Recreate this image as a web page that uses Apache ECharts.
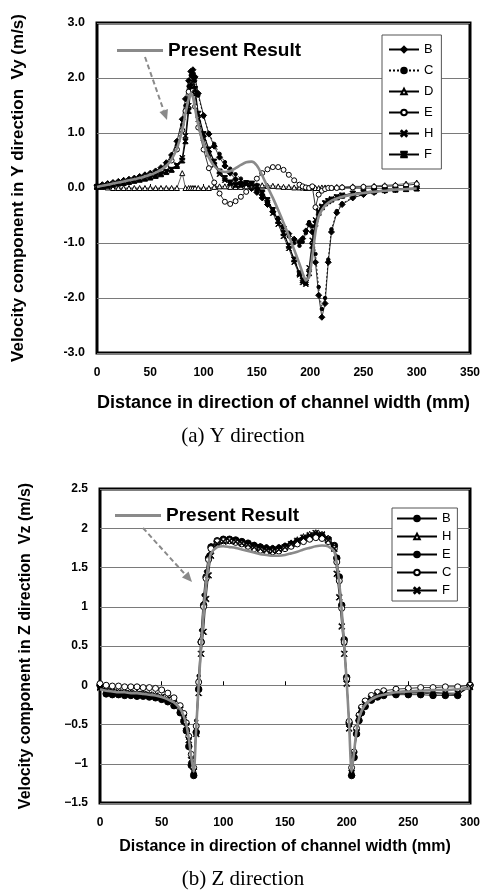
<!DOCTYPE html>
<html>
<head>
<meta charset="utf-8">
<script src="https://cdn.jsdelivr.net/npm/echarts@6/dist/echarts.min.js"></script>
<style>
  html, body { margin: 0; padding: 0; background: #fff; }
  #chart { width: 486px; height: 890px; }
</style>
</head>
<body>
<div id="chart"></div>
<script>
// ---------- (a) Y direction: Vy across the channel width ----------
const xA = [0,5,10,15,20,25,30,35,40,45,50,55,60,65,70,75,80,83,86,88,90,92,95,100,105,110,115,120,125,130,135,140,145,150,155,160,165,170,175,180,185,190,193,196,199,202,205,208,211,214,217,220,225,230,240,250,260,270,280,290,300];

const vyModel = [0.02,0.04,0.06,0.08,0.10,0.12,0.14,0.16,0.18,0.21,
  0.24,0.28,0.33,0.40,0.52,0.72,1.05,1.35,1.62,1.72,
  1.65,1.45,1.15,0.80,0.55,0.40,0.32,0.29,0.31,0.36,
  0.42,0.47,0.48,0.41,0.23,0.02,-0.18,-0.40,-0.63,-0.87,
  -1.12,-1.38,-1.55,-1.68,-1.62,-1.25,-0.80,-0.52,-0.40,-0.32,
  -0.27,-0.23,-0.19,-0.16,-0.12,-0.09,-0.07,-0.05,-0.03,-0.02,-0.01];

const vyB = [0.04,0.06,0.08,0.10,0.12,0.14,0.16,0.18,0.21,0.24,
  0.27,0.31,0.37,0.46,0.60,0.85,1.25,1.62,1.95,2.12,
  2.15,2.02,1.72,1.32,0.98,0.76,0.56,0.40,0.27,0.16,
  0.09,0.04,-0.01,-0.08,-0.18,-0.30,-0.43,-0.56,-0.70,-0.83,
  -0.93,-0.98,-0.92,-0.78,-0.66,-0.80,-1.35,-1.95,-2.35,-2.10,
  -1.35,-0.80,-0.45,-0.30,-0.18,-0.12,-0.08,-0.05,-0.03,-0.01,0.00];

const vyC = [0.03,0.05,0.07,0.09,0.11,0.13,0.15,0.17,0.20,0.23,
  0.26,0.30,0.35,0.43,0.56,0.78,1.15,1.50,1.85,2.05,
  2.08,1.95,1.68,1.30,1.00,0.80,0.62,0.47,0.35,0.25,
  0.17,0.10,0.04,-0.04,-0.14,-0.26,-0.40,-0.55,-0.72,-0.88,
  -1.00,-1.05,-0.98,-0.82,-0.62,-0.70,-1.20,-1.80,-2.20,-2.00,
  -1.30,-0.75,-0.42,-0.28,-0.17,-0.11,-0.07,-0.05,-0.03,-0.02,0.00];

const vyD = [0.03,0.02,0.01,0.00,0.00,0.00,0.00,0.00,0.00,0.00,
  0.00,0.00,0.00,0.00,0.00,0.00,0.27,0.00,0.00,0.00,
  0.00,0.00,0.00,0.00,0.00,0.02,0.03,0.03,0.02,0.02,
  0.02,0.03,0.04,0.05,0.05,0.04,0.04,0.03,0.02,0.02,
  0.01,0.01,0.01,0.00,0.00,0.02,0.00,0.00,0.01,0.01,
  0.01,0.01,0.02,0.02,0.03,0.03,0.04,0.05,0.06,0.08,0.10];

const vyE = [0.02,0.04,0.06,0.08,0.09,0.11,0.13,0.15,0.17,0.20,
  0.23,0.26,0.31,0.38,0.50,0.70,1.05,1.40,1.75,1.90,
  1.78,1.48,1.10,0.70,0.36,0.10,-0.10,-0.25,-0.29,-0.24,
  -0.16,-0.07,0.05,0.17,0.27,0.34,0.38,0.38,0.33,0.24,
  0.14,0.06,0.03,0.01,0.00,0.03,-0.35,-0.12,-0.05,-0.02,
  0.00,0.00,0.00,0.01,0.01,0.02,0.02,0.03,0.04,0.05,0.07];

const vyH = [0.02,0.03,0.05,0.07,0.08,0.10,0.12,0.14,0.16,0.18,
  0.20,0.23,0.26,0.30,0.34,0.42,0.55,0.95,1.50,1.90,
  1.98,1.70,1.25,0.90,0.62,0.42,0.25,0.14,0.08,0.05,
  0.06,0.08,0.06,0.02,-0.10,-0.26,-0.46,-0.66,-0.88,-1.10,
  -1.35,-1.58,-1.72,-1.75,-1.45,-0.95,-0.58,-0.42,-0.33,-0.27,
  -0.23,-0.20,-0.16,-0.13,-0.10,-0.07,-0.05,-0.04,-0.03,-0.02,-0.01];

const vyF = [0.02,0.03,0.04,0.06,0.08,0.09,0.11,0.13,0.15,0.17,
  0.19,0.22,0.25,0.29,0.33,0.40,0.50,0.85,1.40,1.85,
  2.05,1.80,1.35,0.98,0.70,0.48,0.30,0.18,0.10,0.06,
  0.06,0.09,0.08,0.03,-0.08,-0.22,-0.40,-0.60,-0.82,-1.05,
  -1.30,-1.55,-1.68,-1.72,-1.55,-1.05,-0.65,-0.45,-0.35,-0.28,
  -0.24,-0.21,-0.17,-0.14,-0.10,-0.08,-0.06,-0.04,-0.03,-0.02,-0.01];

const yTicksA = { min: -3, max: 3, step: 1 };
const xTicksA = { min: 0, max: 350, step: 50 };

// ---------- (b) Z direction: Vz across the channel width ----------
const xB = [0,5,10,15,20,25,30,35,40,45,50,55,60,65,68,70,72,74,76,78,80,82,84,86,88,90,95,100,105,110,115,120,125,130,135,140,145,150,155,160,165,170,175,180,185,190,192,194,196,198,200,202,204,206,208,210,212,215,220,225,230,240,250,260,270,280,290,300];

const vzModel = [-0.05,-0.07,-0.08,-0.09,-0.09,-0.10,-0.10,-0.11,-0.12,-0.13,
  -0.15,-0.18,-0.22,-0.30,-0.40,-0.50,-0.68,-0.92,-1.10,-0.55,
  0.00,0.50,0.95,1.30,1.55,1.68,1.76,1.77,1.76,1.75,
  1.73,1.71,1.69,1.67,1.66,1.65,1.65,1.66,1.68,1.70,
  1.73,1.75,1.77,1.78,1.77,1.70,1.55,1.30,0.95,0.50,
  0.05,-0.50,-1.10,-0.85,-0.58,-0.42,-0.33,-0.25,-0.18,-0.14,
  -0.12,-0.09,-0.08,-0.07,-0.06,-0.06,-0.05,-0.04];

const vzB = [0.00,-0.11,-0.12,-0.12,-0.13,-0.13,-0.14,-0.14,-0.15,-0.16,
  -0.18,-0.21,-0.26,-0.35,-0.46,-0.58,-0.78,-1.02,-1.15,-0.60,
  -0.05,0.55,1.02,1.38,1.62,1.76,1.84,1.86,1.86,1.85,
  1.83,1.81,1.78,1.76,1.74,1.73,1.74,1.76,1.79,1.83,
  1.86,1.89,1.91,1.90,1.86,1.78,1.62,1.38,1.02,0.58,
  0.10,-0.48,-1.15,-0.92,-0.62,-0.45,-0.35,-0.27,-0.19,-0.15,
  -0.13,-0.12,-0.12,-0.12,-0.13,-0.13,-0.13,0.00];

const vzH = [-0.02,-0.06,-0.07,-0.08,-0.08,-0.09,-0.09,-0.10,-0.11,-0.12,
  -0.14,-0.17,-0.21,-0.29,-0.38,-0.48,-0.66,-0.90,-1.08,-0.50,
  0.08,0.60,1.05,1.40,1.62,1.75,1.82,1.84,1.85,1.84,
  1.82,1.80,1.77,1.75,1.74,1.73,1.75,1.78,1.82,1.86,
  1.90,1.93,1.95,1.93,1.88,1.78,1.60,1.35,1.00,0.55,
  0.08,-0.45,-1.08,-0.88,-0.58,-0.40,-0.31,-0.23,-0.16,-0.12,
  -0.10,-0.08,-0.07,-0.07,-0.06,-0.06,-0.05,-0.02];

const vzE = [-0.04,-0.08,-0.09,-0.10,-0.10,-0.11,-0.11,-0.12,-0.13,-0.14,
  -0.16,-0.19,-0.24,-0.33,-0.43,-0.55,-0.72,-0.97,-1.12,-0.45,
  0.12,0.70,1.15,1.45,1.66,1.78,1.85,1.87,1.86,1.85,
  1.84,1.82,1.80,1.78,1.77,1.76,1.77,1.79,1.82,1.85,
  1.88,1.90,1.92,1.91,1.86,1.76,1.58,1.32,0.98,0.52,
  0.05,-0.52,-1.12,-0.90,-0.60,-0.43,-0.33,-0.25,-0.18,-0.14,
  -0.12,-0.11,-0.10,-0.10,-0.11,-0.11,-0.12,-0.02];

const vzC = [0.02,0.00,-0.01,-0.01,-0.02,-0.02,-0.02,-0.03,-0.03,-0.04,
  -0.06,-0.10,-0.16,-0.26,-0.36,-0.48,-0.65,-0.88,-1.05,-0.52,
  0.04,0.55,1.00,1.36,1.60,1.74,1.83,1.84,1.84,1.82,
  1.80,1.77,1.74,1.72,1.70,1.70,1.71,1.74,1.77,1.80,
  1.83,1.86,1.88,1.87,1.83,1.74,1.57,1.33,0.98,0.55,
  0.08,-0.46,-1.05,-0.85,-0.55,-0.38,-0.28,-0.20,-0.13,-0.09,
  -0.07,-0.05,-0.04,-0.03,-0.03,-0.02,-0.02,0.00];

const vzF = [-0.03,-0.07,-0.08,-0.09,-0.10,-0.10,-0.11,-0.11,-0.12,-0.13,
  -0.15,-0.18,-0.23,-0.31,-0.41,-0.52,-0.70,-0.95,-1.10,-0.62,
  -0.10,0.40,0.68,1.10,1.40,1.65,1.80,1.83,1.84,1.83,
  1.81,1.79,1.76,1.74,1.72,1.71,1.73,1.76,1.80,1.84,
  1.88,1.91,1.94,1.92,1.85,1.74,1.42,1.12,0.75,0.40,
  0.02,-0.55,-1.12,-0.88,-0.60,-0.42,-0.32,-0.24,-0.17,-0.13,
  -0.11,-0.10,-0.09,-0.09,-0.09,-0.10,-0.10,-0.02];

const yTicksB = { min: -1.5, max: 2.5, step: 0.5 };
const xTicksB = { min: 0, max: 300, step: 50 };

const legendA = ['B', 'C', 'D', 'E', 'H', 'F'];
const legendB = ['B', 'H', 'E', 'C', 'F'];
const modelName = 'Present Result';

// ---------- styling ----------
const SANS = '"Liberation Sans", Arial, Helvetica, sans-serif';
const SERIF = '"Liberation Serif", "Times New Roman", serif';
const GRAY = '#8a8a8a';

const SYM_X = 'path://M0,1L1,0L5,4L9,0L10,1L6,5L10,9L9,10L5,6L1,10L0,9L4,5Z';
const SYM_HOUR = 'path://M0,0L10,0L10,1.6L6,5L10,8.4L10,10L0,10L0,8.4L4,5L0,1.6Z';

const pairs = (xs, ys) => xs.map((x, i) => [x, ys[i]]);

function dataSeries(name, idx, xs, ys, symbol, size, opts) {
  opts = opts || {};
  return {
    name: name, type: 'line', xAxisIndex: idx, yAxisIndex: idx,
    data: pairs(xs, ys),
    symbol: symbol, symbolSize: size, showSymbol: true,
    itemStyle: opts.item || { color: '#000', borderColor: '#000', borderWidth: 1 },
    lineStyle: { color: '#000', width: opts.width || 0.8, type: opts.dash || 'solid' },
    emphasis: { disabled: true },
    animation: false, z: 3
  };
}

function modelSeries(idx, xs, ys) {
  return {
    name: modelName, type: 'line', xAxisIndex: idx, yAxisIndex: idx,
    data: pairs(xs, ys), symbol: 'none', smooth: 0.25,
    lineStyle: { color: GRAY, width: 2.6 },
    itemStyle: { color: GRAY },
    emphasis: { disabled: true }, animation: false, z: 5
  };
}

const openItem = { color: '#fff', borderColor: '#000', borderWidth: 1 };

const seriesA = [
  dataSeries('B (Vy)', 0, xA, vyB, 'diamond', 6),
  dataSeries('C (Vy)', 0, xA, vyC, 'circle', 3.5, { dash: [2, 2] }),
  dataSeries('D (Vy)', 0, xA, vyD, 'triangle', 5, { item: openItem, width: 0.6 }),
  dataSeries('E (Vy)', 0, xA, vyE, 'circle', 5, { item: openItem }),
  dataSeries('H (Vy)', 0, xA, vyH, SYM_X, 5),
  dataSeries('F (Vy)', 0, xA, vyF, SYM_HOUR, 5, { width: 1.2 }),
  modelSeries(0, xA, vyModel)
];

const seriesB = [
  dataSeries('B (Vz)', 1, xB, vzB, 'circle', 6.5),
  dataSeries('H (Vz)', 1, xB, vzH, 'triangle', 5, { item: openItem }),
  dataSeries('E (Vz)', 1, xB, vzE, 'circle', 3.5),
  dataSeries('C (Vz)', 1, xB, vzC, 'circle', 6, { item: openItem }),
  dataSeries('F (Vz)', 1, xB, vzF, SYM_X, 6),
  Object.assign(modelSeries(1, xB, vzModel), { name: modelName + ' ' })
];

function fmtA(v) { return v.toFixed(1); }
function fmtB(v) {
  if (Math.abs(v) < 1e-9) return '0';
  const s = String(Math.abs(v));
  return v < 0 ? '\u2212' + s : s;
}

function xAxisCfg(idx, t, name, nameSize, gap) {
  return {
    gridIndex: idx, type: 'value', min: t.min, max: t.max, interval: t.step,
    name: name, nameLocation: 'middle', nameGap: gap,
    nameTextStyle: { fontFamily: SANS, fontWeight: 'bold', fontSize: nameSize, color: '#000' },
    axisLine: { show: false },
    axisTick: { show: true, inside: true, length: 4, lineStyle: { color: '#000', width: 1 } },
    axisLabel: { fontFamily: SANS, fontWeight: 'bold', fontSize: 12, color: '#000', margin: 14 },
    splitLine: { show: false }
  };
}

function yAxisCfg(idx, t, name, nameSize, gap, fmt, labelSize) {
  return {
    gridIndex: idx, type: 'value', min: t.min, max: t.max, interval: t.step,
    name: name, nameLocation: 'middle', nameGap: gap, nameRotate: 90,
    nameTextStyle: { fontFamily: SANS, fontWeight: 'bold', fontSize: nameSize, color: '#000' },
    axisLine: { show: false }, axisTick: { show: false },
    axisLabel: { fontFamily: SANS, fontWeight: 'bold', fontSize: labelSize, color: '#000', margin: 12, formatter: fmt },
    splitLine: { show: true, lineStyle: { color: '#7a7a7a', width: 1 } }
  };
}

function arrow(x1, y1, x2, y2) {
  const dx = x2 - x1, dy = y2 - y1, len = Math.hypot(dx, dy);
  const ux = dx / len, uy = dy / len, px = -uy, py = ux;
  const bx = x2 - ux * 10, by = y2 - uy * 10;
  return [
    { type: 'line', z: 20, shape: { x1: x1, y1: y1, x2: bx, y2: by },
      style: { stroke: GRAY, lineWidth: 2, lineDash: [5, 3] } },
    { type: 'polygon', z: 20, shape: { points: [[x2, y2], [bx + px * 4.5, by + py * 4.5], [bx - px * 4.5, by - py * 4.5]] },
      style: { fill: GRAY } }
  ];
}

const legendText = { fontFamily: SANS, fontSize: 13, color: '#000' };
const strip = n => n.replace(/ \(V[yz]\)$/, '');
const modelText = { fontFamily: SANS, fontWeight: 'bold', fontSize: 19, color: '#000' };

const option = {
  backgroundColor: '#fff',
  animation: false,
  title: [
    { text: '(a) Y direction', left: 'center', top: 426, padding: 0,
      textStyle: { fontFamily: SERIF, fontWeight: 'normal', fontSize: 21, color: '#000' } },
    { text: '(b) Z direction', left: 'center', top: 869, padding: 0,
      textStyle: { fontFamily: SERIF, fontWeight: 'normal', fontSize: 21, color: '#000' } }
  ],
  grid: [
    { left: 97, top: 23, width: 373, height: 330, show: true, borderColor: '#000', borderWidth: 3, backgroundColor: 'transparent' },
    { left: 100, top: 489, width: 370, height: 314, show: true, borderColor: '#000', borderWidth: 3, backgroundColor: 'transparent' }
  ],
  xAxis: [
    xAxisCfg(0, xTicksA, 'Distance in direction of channel width (mm)', 18, 41),
    xAxisCfg(1, xTicksB, 'Distance in direction of channel width (mm)', 16, 36)
  ],
  yAxis: [
    yAxisCfg(0, yTicksA, 'Velocity component in Y direction  Vy (m/s)', 17, 70, fmtA, 12.5),
    yAxisCfg(1, yTicksB, 'Velocity component in Z direction  Vz (m/s)', 16, 66, fmtB, 12)
  ],
  legend: [
    { orient: 'vertical', left: 382, top: 35, selectedMode: false,
      data: legendA.map(n => n + ' (Vy)'), formatter: strip,
      backgroundColor: '#fff', borderColor: '#555', borderWidth: 1,
      padding: [8, 8, 8, 6], itemWidth: 30, itemHeight: 7, itemGap: 8,
      textStyle: legendText, z: 10 },
    { orient: 'vertical', left: 392, top: 508, selectedMode: false,
      data: legendB.map(n => n + ' (Vz)'), formatter: strip,
      backgroundColor: '#fff', borderColor: '#555', borderWidth: 1,
      padding: [4, 6, 4, 4], itemWidth: 40, itemHeight: 7, itemGap: 5,
      textStyle: legendText, z: 10 },
    { left: 112, top: 36, selectedMode: false, itemWidth: 46, itemHeight: 3, itemGap: 0,
      data: [{ name: modelName, icon: 'rect' }], textStyle: modelText },
    { left: 110, top: 501, selectedMode: false, itemWidth: 46, itemHeight: 3, itemGap: 0,
      data: [{ name: modelName + ' ', icon: 'rect' }], textStyle: modelText }
  ],
  graphic: arrow(145, 57, 167, 120).concat(arrow(143, 528, 192, 582)),
  series: seriesA.concat(seriesB)
};

const chart = echarts.init(document.getElementById('chart'), null, { renderer: 'canvas' });
chart.setOption(option);
</script>
</body>
</html>
